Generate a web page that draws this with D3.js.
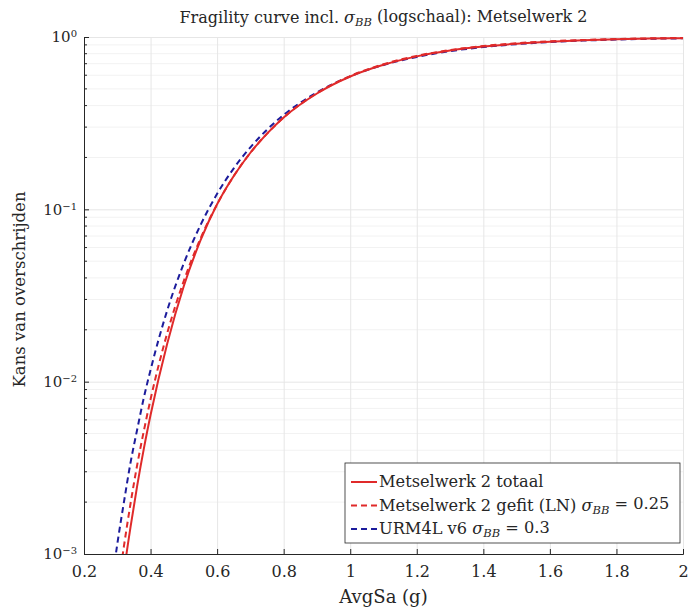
<!DOCTYPE html>
<html>
<head>
<meta charset="utf-8">
<script src="https://cdn.jsdelivr.net/npm/d3@7"></script>
<style>
  body { margin: 0; background: #fff; }
  text { font-family: "DejaVu Serif", "Liberation Serif", serif; fill: #262626; }
  .grid line { stroke: #e6e6e6; stroke-width: 1; }
  .minor line { stroke: #f2f2f2; stroke-width: 1; }
</style>
</head>
<body>
<svg id="chart" width="690" height="611"></svg>
<script>
// AvgSa values (g)
var avgSa = [0.28, 0.30, 0.32, 0.34, 0.36, 0.38, 0.40, 0.45, 0.50, 0.55, 0.60, 0.65, 0.70, 0.75,
             0.80, 0.90, 1.0, 1.1, 1.2, 1.3, 1.4, 1.5, 1.6, 1.7, 1.8, 1.9, 2.0];

// Metselwerk 2 totaal
var totaal = [0.0002, 0.0004, 0.00079, 0.00144, 0.0025, 0.0041, 0.0064, 0.0166, 0.0359, 0.066, 0.107, 0.156, 0.213, 0.275,
              0.341, 0.470, 0.590, 0.690, 0.772, 0.835, 0.880, 0.915, 0.940, 0.958, 0.970, 0.979, 0.985];

// Metselwerk 2 gefit (LN)
var gefit = [0.00029, 0.00059, 0.00111, 0.00197, 0.0033, 0.0052, 0.0079, 0.0191, 0.0385, 0.0677, 0.107, 0.156, 0.213, 0.275,
             0.341, 0.472, 0.593, 0.695, 0.777, 0.840, 0.886, 0.920, 0.944, 0.961, 0.973, 0.982, 0.987];

// URM4L v6
var urm4l = [0.0006, 0.00114, 0.0020, 0.0034, 0.0053, 0.0081, 0.0117, 0.0259, 0.0486, 0.081, 0.123, 0.173, 0.229, 0.290,
             0.353, 0.477, 0.591, 0.688, 0.766, 0.828, 0.874, 0.909, 0.935, 0.953, 0.966, 0.976, 0.983];

var xTicks = [0.2, 0.4, 0.6, 0.8, 1, 1.2, 1.4, 1.6, 1.8, 2];
var yTicks = [1e-3, 1e-2, 1e-1, 1];

var margin = {left: 84, right: 7, top: 37, bottom: 57};
var width = 690, height = 611;
var plotW = width - margin.left - margin.right;
var plotH = height - margin.top - margin.bottom;

var svg = d3.select("#chart");
var g = svg.append("g").attr("transform", "translate(" + margin.left + "," + margin.top + ")");

var xScale = d3.scaleLinear().domain([0.2, 2]).range([0, plotW]);
var yScale = d3.scaleLog().domain([1e-3, 1]).range([plotH, 0]);

// minor grid (log)
var minorVals = [];
yTicks.slice(0, -1).forEach(function(d) {
  for (var k = 2; k <= 9; k++) minorVals.push(d * k);
});
g.append("g").attr("class", "minor")
  .selectAll("line").data(minorVals).enter().append("line")
  .attr("x1", 0).attr("x2", plotW)
  .attr("y1", function(d) { return yScale(d); })
  .attr("y2", function(d) { return yScale(d); });

// major grid
g.append("g").attr("class", "grid")
  .call(d3.axisBottom(xScale).tickValues(xTicks).tickSize(plotH).tickFormat(""))
  .call(function(s) { s.select(".domain").remove(); });
g.append("g").attr("class", "grid")
  .call(d3.axisLeft(yScale).tickValues(yTicks).tickSize(-plotW).tickFormat(""))
  .call(function(s) { s.select(".domain").remove(); });

// clip
svg.append("defs").append("clipPath").attr("id", "clip")
  .append("rect").attr("width", plotW).attr("height", plotH);

// axes
var xAxis = g.append("g")
  .attr("transform", "translate(0," + plotH + ")")
  .call(d3.axisBottom(xScale).tickValues(xTicks).tickSize(-5).tickPadding(12)
    .tickFormat(function(d) { return d; }));
xAxis.selectAll("text").attr("font-size", 16);

var yAxis = g.append("g")
  .call(d3.axisLeft(yScale).tickValues(yTicks).tickSize(-5).tickFormat(""));
yAxis.selectAll(".tick").append("text")
  .attr("x", -7).attr("dy", "0.32em").attr("text-anchor", "end").attr("font-size", 15)
  .each(function(d) {
    var t = d3.select(this);
    var p = Math.round(Math.log10(d));
    t.append("tspan").text("10");
    t.append("tspan").attr("dy", "-0.5em").attr("font-size", 10)
      .text(p === 0 ? "0" : "\u2212" + Math.abs(p));
  });
// minor ticks on y axis
g.append("g").selectAll("line").data(minorVals).enter().append("line")
  .attr("x1", 0).attr("x2", 3)
  .attr("y1", function(d) { return yScale(d); })
  .attr("y2", function(d) { return yScale(d); })
  .attr("stroke", "#262626");

[xAxis, yAxis].forEach(function(a) {
  a.select(".domain").attr("stroke", "#262626");
  a.selectAll(".tick line").attr("stroke", "#262626");
});

// lines
var series = [
  {name: "totaal", values: totaal, color: "#e02a2a", dash: null},
  {name: "gefit", values: gefit, color: "#e02a2a", dash: "6,4"},
  {name: "urm4l", values: urm4l, color: "#1c1c9c", dash: "6,4"}
];

var line = d3.line()
  .x(function(d) { return xScale(d[0]); })
  .y(function(d) { return yScale(d[1]); })
  .curve(d3.curveMonotoneX);

var lines = g.append("g").attr("clip-path", "url(#clip)");
[series[2], series[0], series[1]].forEach(function(s) {
  lines.append("path")
    .datum(avgSa.map(function(x, i) { return [x, s.values[i]]; }))
    .attr("fill", "none")
    .attr("stroke", s.color)
    .attr("stroke-width", 2)
    .attr("stroke-dasharray", s.dash)
    .attr("d", line);
});

// title
var title = svg.append("text")
  .attr("x", margin.left + plotW / 2).attr("y", 23)
  .attr("text-anchor", "middle").attr("font-size", 16);
title.append("tspan").text("Fragility curve incl. ");
title.append("tspan").attr("font-style", "italic").text("\u03C3");
title.append("tspan").attr("font-style", "italic").attr("font-size", 11.5).attr("dy", "0.3em").text("BB");
title.append("tspan").attr("dy", "-0.3em").text(" (logschaal): Metselwerk 2");

// axis labels
svg.append("text")
  .attr("x", margin.left + plotW / 2).attr("y", 603)
  .attr("text-anchor", "middle").attr("font-size", 18)
  .text("AvgSa (g)");
svg.append("text")
  .attr("transform", "translate(25," + (margin.top + plotH / 2 - 6) + ") rotate(-90)")
  .attr("text-anchor", "middle").attr("font-size", 16.5)
  .text("Kans van overschrijden");

// legend
var legX = 345, legY = 463, legW = 335, legH = 80;
var leg = svg.append("g");
leg.append("rect").attr("x", legX).attr("y", legY).attr("width", legW).attr("height", legH)
  .attr("fill", "#fff").attr("stroke", "#262626").attr("stroke-width", 0.8);
var labels = [
  [{t: "Metselwerk 2 totaal"}],
  [{t: "Metselwerk 2 gefit (LN) "}, {t: "\u03C3", i: true}, {t: "BB", i: true, sub: true}, {t: " = 0.25"}],
  [{t: "URM4L v6 "}, {t: "\u03C3", i: true}, {t: "BB", i: true, sub: true}, {t: " = 0.3"}]
];
series.forEach(function(s, k) {
  var cy = legY + 19 + k * 23.5;
  leg.append("line").attr("x1", legX + 6).attr("x2", legX + 32)
    .attr("y1", cy).attr("y2", cy)
    .attr("stroke", s.color).attr("stroke-width", 2).attr("stroke-dasharray", s.dash);
  var t = leg.append("text").attr("x", legX + 34).attr("y", cy + 5).attr("font-size", 16.2);
  var prevSub = false;
  labels[k].forEach(function(p) {
    var ts = t.append("tspan").text(p.t);
    if (p.i) ts.attr("font-style", "italic");
    if (p.sub) { ts.attr("dy", "0.3em").attr("font-size", 11.5); prevSub = true; }
    else if (prevSub) { ts.attr("dy", "-0.3em"); prevSub = false; }
  });
});
</script>
</body>
</html>
